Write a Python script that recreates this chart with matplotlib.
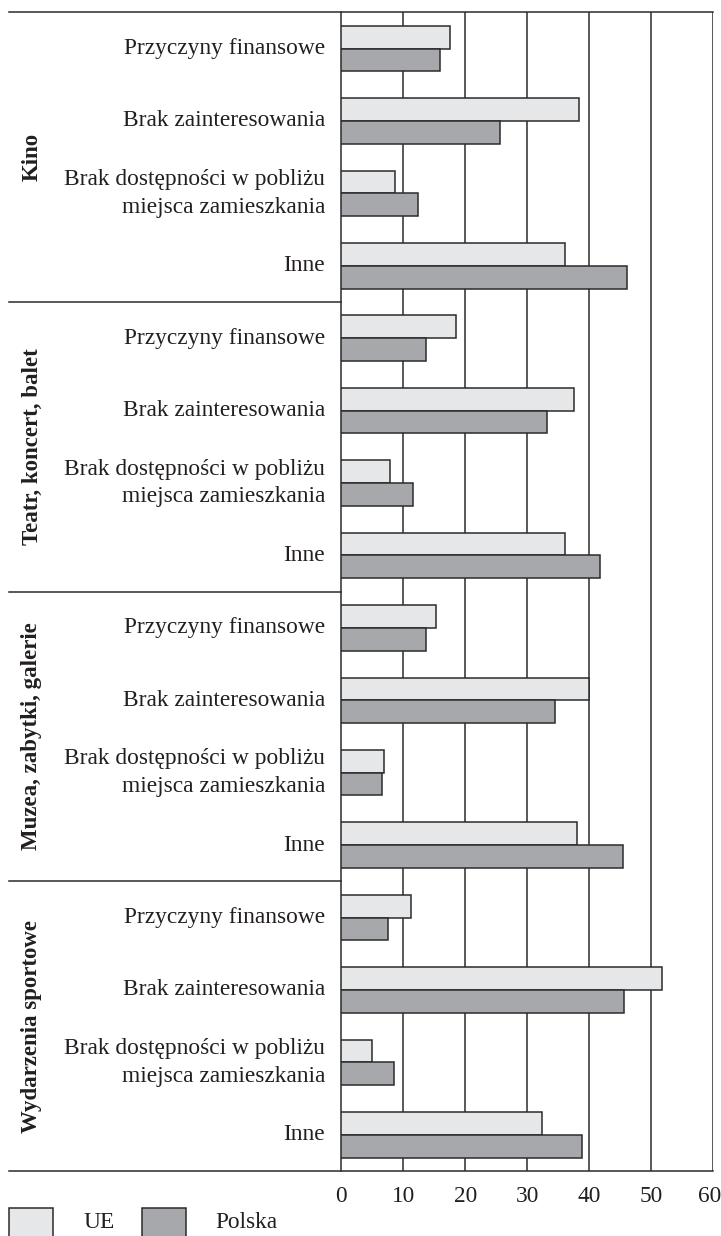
import matplotlib
matplotlib.use("Agg")
import matplotlib.pyplot as plt
from matplotlib.patches import Rectangle
from matplotlib.lines import Line2D
from matplotlib.transforms import blended_transform_factory, ScaledTranslation
import numpy as np

groups = ["Kino", "Teatr, koncert, balet", "Muzea, zabytki, galerie", "Wydarzenia sportowe"]
reasons = ["Przyczyny finansowe", "Brak zainteresowania",
           "Brak dostępności w pobliżu\nmiejsca zamieszkania", "Inne"]
ue = [17.5, 38.4, 8.7, 36.0,
      18.5, 37.5, 7.8, 36.1,
      15.2, 39.9, 6.9, 38.0,
      11.2, 51.7, 5.0, 32.3]
polska = [15.9, 25.6, 12.4, 46.1,
          13.7, 33.1, 11.6, 41.8,
          13.6, 34.5, 6.6, 45.5,
          7.5, 45.6, 8.5, 38.8]
xticks = [0, 10, 20, 30, 40, 50, 60]
series_names = ["UE", "Polska"]

C_UE = "#e6e7e8"
C_PL = "#a7a8ab"
EDGE = "#2b2b2b"
TXT = "#231f20"
FONT = "Liberation Serif"
FS = 16.8

W, H = 721, 1236
fig = plt.figure(figsize=(W / 100, H / 100), dpi=100)
x0, x1 = 341.3, 713.3
y_top, y_bot = 12.3, 1171
ax = fig.add_axes([x0 / W, 1 - y_bot / H, (x1 - x0) / W, (y_bot - y_top) / H])

n = len(ue)
centers = np.arange(n) + 0.5
bh = 0.314
ax.set_xlim(0, 60)
ax.set_ylim(n, 0)

for xv in xticks[1:]:
    ax.axvline(xv, color=EDGE, lw=1.1, zorder=1)

ax.barh(centers - bh / 2, ue, height=bh, color=C_UE, edgecolor=EDGE, linewidth=1.1, zorder=3)
ax.barh(centers + bh / 2, polska, height=bh, color=C_PL, edgecolor=EDGE, linewidth=1.1, zorder=3)

for s in ["top", "right", "bottom"]:
    ax.spines[s].set_visible(False)
ax.spines["left"].set_color(EDGE)
ax.spines["left"].set_linewidth(1.1)

ax.set_xticks(xticks)
ax.set_xticklabels([str(v) for v in xticks], fontfamily=FONT, fontsize=FS, color=TXT)
ax.tick_params(axis="x", length=0, pad=11)
ax.set_yticks([])
last = ax.get_xticklabels()[-1]
last.set_transform(last.get_transform() + ScaledTranslation(-4 / 100, 0, fig.dpi_scale_trans))

labels_all = reasons * len(groups)
for c, lab in zip(centers, labels_all):
    ax.text(-2.6, c, lab, ha="right", va="center", fontfamily=FONT, fontsize=FS,
            color=TXT, linespacing=1.4)

tr = blended_transform_factory(fig.transFigure, ax.transData)
xl = 9 / W
for k in range(len(groups) + 1):
    yv = k * len(reasons)
    xr = x1 / W if k in (0, len(groups)) else x0 / W
    fig.add_artist(Line2D([xl, xr], [yv, yv], transform=tr, color=EDGE, lw=1.1))

for g, name in enumerate(groups):
    yc = g * len(reasons) + len(reasons) / 2
    fig.text(32 / W, yc, name, rotation=90, ha="center", va="center",
             fontfamily=FONT, fontsize=16.5, fontweight="bold", color=TXT,
             transform=tr)

# legend
box_w, box_top = 44, 1208
for xb, col, lab, xt in [(9, C_UE, series_names[0], 83), (142, C_PL, series_names[1], 215)]:
    fig.add_artist(Rectangle((xb / W, 1 - 1240 / H), box_w / W, (1240 - box_top) / H,
                             transform=fig.transFigure, facecolor=col, edgecolor=EDGE, lw=1.1))
    fig.text(xt / W, 1 - 1222 / H, lab, ha="left", va="center", fontfamily=FONT,
             fontsize=FS, color=TXT)

fig.savefig("out.png", dpi=100, facecolor="white")
